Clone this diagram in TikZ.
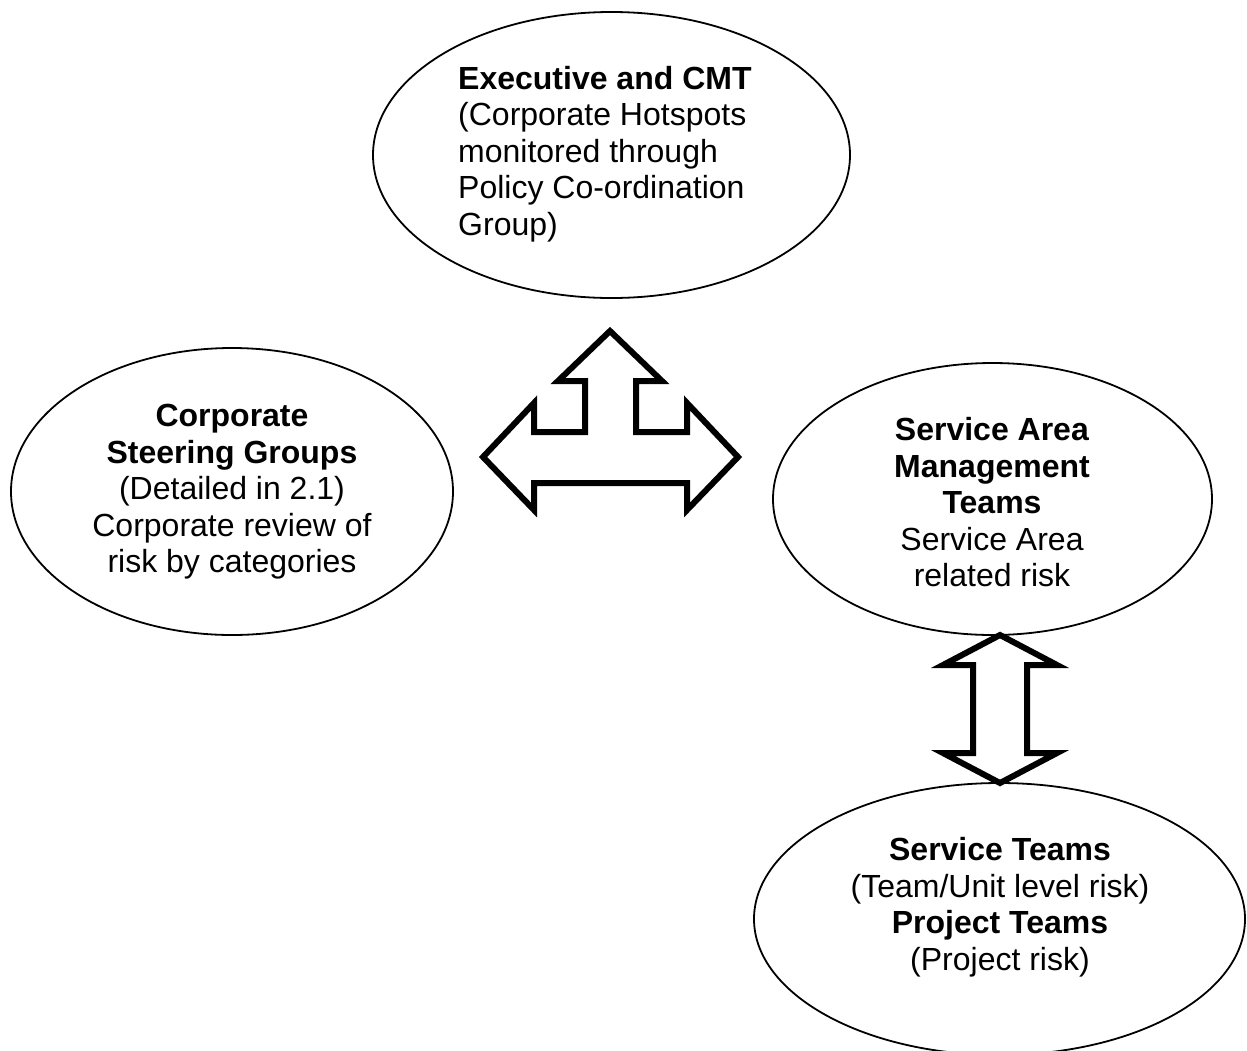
\documentclass[tikz,border=0pt]{standalone}
\usepackage{fontspec}
\setmainfont{Liberation Sans}
\usetikzlibrary{shapes.geometric}
\begin{document}
\begin{tikzpicture}[x=1pt,y=-1pt,
  bubble/.style={draw=black,line width=1.8pt,ellipse,inner sep=0pt},
  label/.style={inner sep=0pt,font=\fontsize{32pt}{36.5pt}\selectfont},
  blockarrow/.style={draw=black,line width=6pt,line join=miter,fill=white}]
\useasboundingbox (0,0) rectangle (1247,1050);
\fill[white] (0,0) rectangle (1247,1050);

% the four groups
\node[bubble,minimum width=477pt,minimum height=286pt] (exec) at (611.5,155) {};
\node[bubble,minimum width=442pt,minimum height=287pt] (steer) at (232,491.5) {};
\node[bubble,minimum width=439pt,minimum height=272pt] (sam) at (992.5,499) {};
\node[bubble,minimum width=491pt,minimum height=272pt] (svc) at (999.5,919) {};

\node[label,align=left,anchor=west] (exectext) at (458,154)
  {\textbf{Executive and CMT}\\(Corporate Hotspots\\monitored through\\Policy Co-ordination\\Group)};
\node[label,align=center] (steertext) at (232,492)
  {\textbf{Corporate}\\\textbf{Steering Groups}\\(Detailed in 2.1)\\Corporate review of\\risk by categories};
\node[label,align=center] (samtext) at (992,502.5)
  {\textbf{Service Area}\\\textbf{Management}\\\textbf{Teams}\\Service Area\\related risk};
\node[label,align=center] (svctext) at (1000,907)
  {\textbf{Service Teams}\\(Team/Unit level risk)\\\textbf{Project Teams}\\(Project risk)};

% three-way block arrow between the upper groups
\draw[blockarrow] (610,331) -- (662,381) -- (636,381) -- (636,432) -- (687,432)
  -- (687,403) -- (738,457) -- (687,510) -- (687,483) -- (534,483) -- (534,510)
  -- (483,457) -- (534,403) -- (534,432) -- (585,432) -- (585,381) -- (558,381) -- cycle;

% two-way block arrow between service area and service teams
\draw[blockarrow] (1000,635) -- (1057,665) -- (1027,665) -- (1027,753) -- (1057,753)
  -- (1000,783) -- (943,753) -- (973,753) -- (973,665) -- (943,665) -- cycle;
\end{tikzpicture}
\end{document}
